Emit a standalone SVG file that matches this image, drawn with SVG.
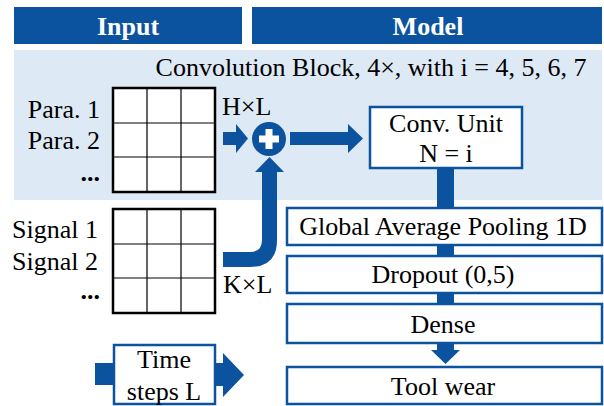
<svg xmlns="http://www.w3.org/2000/svg" width="604" height="406" viewBox="0 0 604 406">
  <style>
    .t { font-family: 'Liberation Serif', 'DejaVu Serif', 'Times New Roman', Times, serif; font-size: 26px; fill: #000; }
    .h { font-family: 'Liberation Serif', 'DejaVu Serif', 'Times New Roman', Times, serif; font-size: 26px; font-weight: bold; fill: #fff; }
    .box { fill: #fff; stroke: #0b539e; stroke-width: 2.5; }
    .blue { fill: #0b539e; }
    .gridout { fill: #fff; stroke: #000; stroke-width: 2.5; }
    .gridin { stroke: #000; stroke-width: 1.2; fill: none; }
  </style>
  <defs>
    <g id="grid">
      <rect class="gridout" x="0" y="0" width="102" height="104"/>
      <path class="gridin" d="M34,0V104M68,0V104M0,35H102M0,69H102"/>
    </g>
  </defs>

  <!-- header bars -->
  <g id="hdr-input">
    <rect class="blue" x="14" y="7" width="228" height="37"/>
    <text class="h" x="128" y="35" text-anchor="middle">Input</text>
  </g>
  <g id="hdr-model">
    <rect class="blue" x="252" y="7" width="350" height="37"/>
    <text class="h" x="428" y="35" text-anchor="middle">Model</text>
  </g>

  <!-- convolution block background -->
  <g id="conv-block">
    <rect x="14" y="50" width="588" height="150" fill="#dde9f5"/>
    <text class="t" x="371" y="76" text-anchor="middle">Convolution Block, 4×, with i = 4, 5, 6, 7</text>
  </g>

  <!-- parameter matrix -->
  <g id="para-matrix">
    <use href="#grid" x="113" y="88"/>
    <text class="t" x="100" y="118" text-anchor="end">Para. 1</text>
    <text class="t" x="100" y="149" text-anchor="end">Para. 2</text>
    <text class="t" x="100" y="181" text-anchor="end" font-weight="bold">...</text>
    <text class="t" x="222" y="115">H×L</text>
  </g>

  <!-- signal matrix -->
  <g id="signal-matrix">
    <use href="#grid" x="113" y="209"/>
    <text class="t" x="98" y="238" text-anchor="end">Signal 1</text>
    <text class="t" x="98" y="270" text-anchor="end">Signal 2</text>
    <text class="t" x="100" y="299" text-anchor="end" font-weight="bold">...</text>
    <text class="t" x="223" y="293">K×L</text>
  </g>

  <!-- addition node -->
  <g id="add">
    <circle class="blue" cx="269" cy="139" r="17"/>
    <path d="M265.5,129h7v6.5h6.5v7h-6.5v6.5h-7v-6.5h-6.5v-7h6.5z" fill="#fff"/>
  </g>

  <g id="conv-unit">
    <rect class="box" x="370" y="107" width="152" height="61"/>
    <text class="t" x="446" y="132" text-anchor="middle">Conv. Unit</text>
    <text class="t" x="446" y="162" text-anchor="middle">N = i</text>
  </g>

  <g id="gap">
    <rect class="box" x="287" y="208" width="315" height="37"/>
    <text class="t" x="443" y="235" text-anchor="middle">Global Average Pooling 1D</text>
  </g>
  <g id="dropout">
    <rect class="box" x="287" y="256" width="315" height="37"/>
    <text class="t" x="443" y="283" text-anchor="middle">Dropout (0,5)</text>
  </g>
  <g id="dense">
    <rect class="box" x="287" y="304" width="315" height="39"/>
    <text class="t" x="443" y="333" text-anchor="middle">Dense</text>
  </g>
  <g id="tool-wear">
    <rect class="box" x="287" y="367" width="315" height="37"/>
    <text class="t" x="443" y="395" text-anchor="middle">Tool wear</text>
  </g>

  <g id="time-steps">
    <rect class="blue" x="95" y="363" width="19" height="22"/>
    <rect class="box" x="114" y="345" width="101" height="59"/>
    <text class="t" x="164" y="368" text-anchor="middle">Time</text>
    <text class="t" x="164" y="400" text-anchor="middle">steps L</text>
  </g>

  <!-- connectors -->
  <g id="connectors" class="blue">
    <!-- para matrix to add -->
    <path d="M223,132H236V124L248,138.5L236,153V145H223Z"/>
    <!-- add to conv unit -->
    <path d="M290,132H348V124L363,138.5L348,153V145H290Z"/>
    <!-- signal matrix up into add -->
    <path d="M223,252H250Q262,252 262,240V172H255L269.5,157L284,172H277V240Q277,267 250,267H223Z"/>
    <!-- conv unit down through the stack -->
    <rect x="437" y="168" width="17" height="40"/>
    <rect x="437" y="245" width="17" height="11"/>
    <rect x="437" y="293" width="17" height="11"/>
    <path d="M437,343H454V350H460L445.5,364L431,350H437Z"/>
    <!-- time steps arrow -->
    <path d="M215,363H223V353L244,375L223,397V386H215Z"/>
  </g>
</svg>
